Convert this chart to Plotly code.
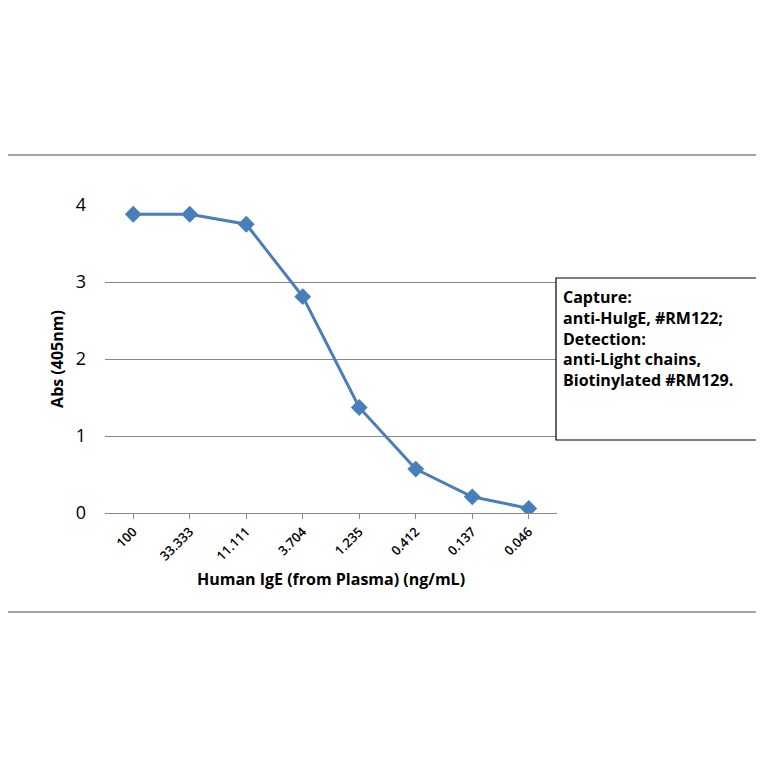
import plotly.graph_objects as go

categories = ["100", "33.333", "11.111", "3.704", "1.235", "0.412", "0.137", "0.046"]
values = [3.88, 3.88, 3.75, 2.81, 1.37, 0.57, 0.21, 0.06]

OFF = 8  # page body margin
L, R, T, B = 105, 557, 205, 513
W, H = R - L, B - T
def px(x): return (x - L) / W
def py(y): return (B - y) / H

fig = go.Figure(go.Scatter(
    x=categories, y=values, mode="lines+markers",
    line=dict(color="#4A7EBB", width=3),
    marker=dict(symbol="diamond", size=13, color="#4A7EBB"),
))
font = "Open Sans"
fig.update_layout(
    width=764, height=764,
    margin=dict(l=L - OFF, r=764 - R + OFF, t=T - OFF, b=764 - B + OFF),
    paper_bgcolor="white", plot_bgcolor="white", showlegend=False,
    font=dict(family=font, color="black"),
    xaxis=dict(type="category", range=[-0.5, 7.5], showgrid=False, showline=True,
               linecolor="#888", tickangle=-45, tickfont=dict(size=13, family="Open Sans SemiBold, Open Sans"),
               ticks="outside", ticklen=5, tickcolor="#888",
               title=dict(text="<b>Human IgE (from Plasma) (ng/mL)</b>", font=dict(size=16), standoff=10)),
    yaxis=dict(range=[0, 4], dtick=1, showgrid=True, gridcolor="#888", zeroline=False,
               showline=False, tickfont=dict(size=18), ticks="", ticklabelstandoff=18,
               title=dict(text="<b>Abs (405nm)</b>", font=dict(size=16), standoff=8)),
    shapes=[
        dict(type="rect", xref="paper", yref="paper", x0=px(2), x1=px(762), y0=py(612), y1=py(155),
             line=dict(color="#888", width=1.5), layer="below"),
        dict(type="rect", xref="paper", yref="paper", x0=px(556), x1=px(760), y0=py(440), y1=py(278),
             line=dict(color="black", width=1.2), fillcolor="white", layer="above"),
    ],
    annotations=[dict(xref="paper", yref="paper", x=px(561), y=py(284), xanchor="left", yanchor="top",
                      align="left", showarrow=False, font=dict(size=16, family=font),
                      text="<b>Capture:<br>anti-HuIgE, #RM122;<br>Detection:<br>anti-Light chains,<br>Biotinylated #RM129.</b>")],
)
fig.write_html("out.html")
